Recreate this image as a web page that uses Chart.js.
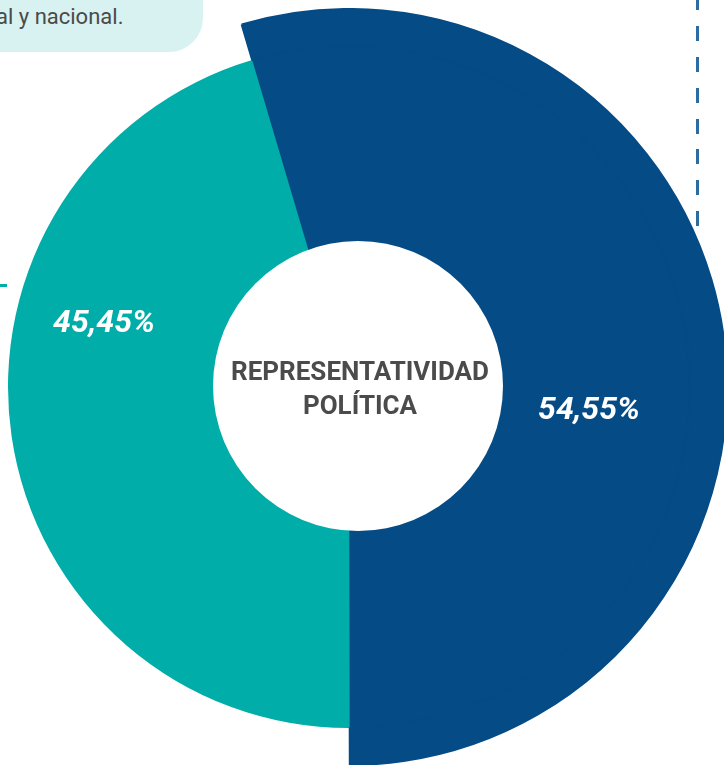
<!DOCTYPE html>
<html>
<head>
<meta charset="utf-8">
<script src="https://cdn.jsdelivr.net/npm/chart.js@4.4.0/dist/chart.umd.min.js"></script>
<style>
  html, body { margin: 0; padding: 0; width: 724px; height: 765px; overflow: hidden; background: #ffffff; font-family: Roboto, sans-serif; }
  #note { position: absolute; left: 0; top: 0; width: 203px; height: 52px; background: #d8f2f1; border-bottom-right-radius: 34px; }
  #note span { position: absolute; left: -4px; top: 4px; font-size: 22px; color: #4a4a4a; white-space: nowrap; }
  #dash { position: absolute; left: 696px; top: -5px; width: 3px; height: 231px;
          background: repeating-linear-gradient(to bottom, #2d6ca0 0 15px, transparent 15px 30.9px); }
  #tick { position: absolute; left: 0; top: 284px; width: 7px; height: 3px; background: #00ada8; }
  #wrap { position: absolute; left: -30px; top: 8px; width: 758px; height: 758px; }
</style>
</head>
<body>
<div id="note"><span>al y nacional.</span></div>
<div id="dash"></div>
<div id="tick"></div>
<div id="wrap"><canvas id="c"></canvas></div>
<script>
const categories = ['Segmento A', 'Segmento B'];
const values = [54.55, 45.45];
const valueLabels = ['54,55%', '45,45%'];
const centerTitle = ['REPRESENTATIVIDAD', 'POLÍTICA'];

const BLUE = '#054b86';
const TEAL = '#00ada8';

const overlay = {
  id: 'overlay',
  afterDatasetsDraw(chart, args, opts) {
    const ctx = chart.ctx;
    const arc = chart.getDatasetMeta(1).data[0];
    const cx = arc.x, cy = arc.y;
    ctx.save();
    ctx.fillStyle = '#ffffff';
    ctx.beginPath();
    ctx.arc(cx + opts.hole.dx, cy + opts.hole.dy, opts.hole.r, 0, Math.PI * 2);
    ctx.fill();
    ctx.fillStyle = '#4b4b4b';
    ctx.font = 'bold 26px Roboto';
    ctx.textAlign = 'center';
    ctx.textBaseline = 'middle';
    centerTitle.forEach((t, i) => ctx.fillText(t, cx + opts.titleX, cy + opts.titleY[i]));
    ctx.fillStyle = '#ffffff';
    ctx.font = 'italic bold 32px Roboto';
    valueLabels.forEach((t, i) => {
      const p = opts.labelPos[i];
      ctx.fillText(t, cx + p[0], cy + p[1]);
    });
    ctx.restore();
  }
};

new Chart(document.getElementById('c'), {
  type: 'doughnut',
  data: {
    labels: categories,
    datasets: [
      { data: values, backgroundColor: [BLUE, 'rgba(0,0,0,0)'], borderColor: [BLUE, 'rgba(0,0,0,0)'], borderWidth: [2, 0], weight: 37 },
      { data: values, backgroundColor: [BLUE, TEAL], borderColor: [BLUE, TEAL], borderWidth: [2, 0], weight: 206 }
    ]
  },
  options: {
    responsive: true,
    maintainAspectRatio: false,
    animation: false,
    events: [],
    rotation: -16.5,
    cutout: 135,
    layout: { padding: 0 },
    plugins: {
      legend: { display: false },
      tooltip: { enabled: false },
      overlay: {
        hole: { dx: 9, dy: -1, r: 145 },
        titleX: 11,
        titleY: [-14, 20],
        labelPos: [[240, 24], [-245, -63]]
      }
    }
  },
  plugins: [overlay]
});
</script>
</body>
</html>
